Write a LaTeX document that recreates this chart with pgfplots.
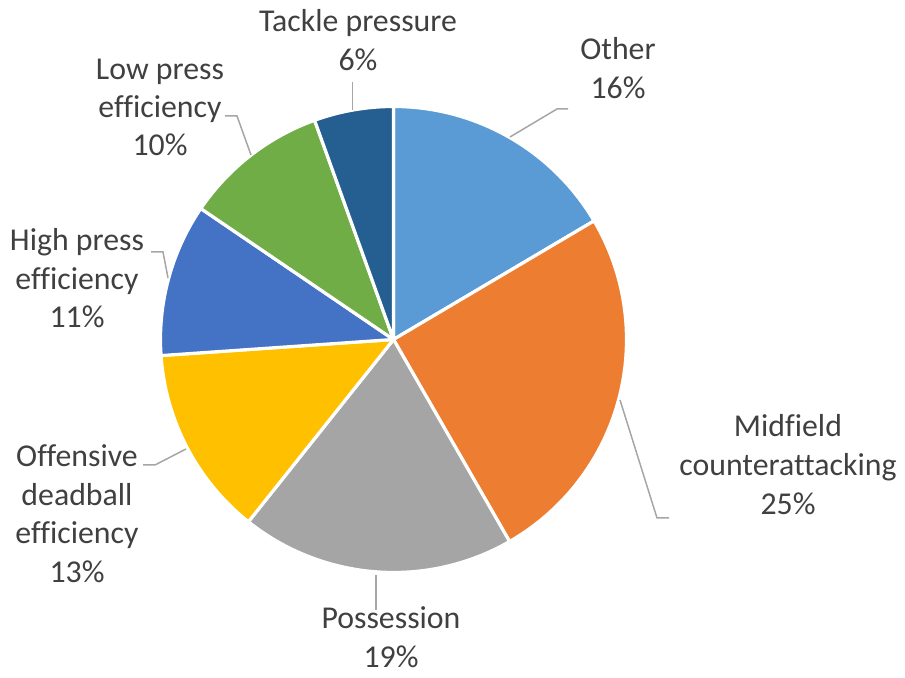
\documentclass[border=0pt]{standalone}
\usepackage{pgfplots}
\pgfplotsset{compat=1.18}
\usepackage{pgfplotstable}
\usepackage{fontspec}
\setmainfont{Carlito}[Ligatures=NoCommon]
\definecolor{slice0}{HTML}{5B9BD5}
\definecolor{slice1}{HTML}{ED7D31}
\definecolor{slice2}{HTML}{A5A5A5}
\definecolor{slice3}{HTML}{FFC000}
\definecolor{slice4}{HTML}{4472C4}
\definecolor{slice5}{HTML}{70AD47}
\definecolor{slice6}{HTML}{255E91}
\definecolor{txt}{HTML}{404040}
\definecolor{lead}{HTML}{A6A6A6}
\pgfplotstableread{
slice value
Other 16.5
Midfield 25.2
Possession 19.0
Offensive 13.2
HighPress 10.6
LowPress 10.0
Tackle 5.5
}\piedata
\begin{document}
\begin{tikzpicture}[every node/.style={font=\fontsize{15.9}{19.5}\selectfont, text=txt, inner sep=0pt}]
\begin{axis}[x=0.5pt,y=0.5pt,xmin=0,xmax=905,ymin=0,ymax=678,hide axis,clip=false]
\path (axis cs:0,0) rectangle (axis cs:905,678);
\def\cum{90}
\pgfplotsforeachungrouped \i in {0,...,6}{%
  \pgfplotstablegetelem{\i}{value}\of\piedata
  \pgfmathsetmacro{\endang}{\cum-3.6*\pgfplotsretval}%
  \edef\temp{\noexpand\filldraw[fill=slice\i,draw=white,line width=1.6pt,line join=round] (axis cs:393.5,338.5) -- ++(\cum:116.5pt) arc[start angle=\cum,end angle=\endang,radius=116.5pt] -- cycle;}%
  \temp
  \global\let\cum\endang
}
% leader lines
\addplot[lead, line width=0.75pt, mark=none] coordinates {(510,541) (557,569) (568,569)};
\addplot[lead, line width=0.75pt, mark=none] coordinates {(620,278) (657,160) (669,160)};
\addplot[lead, line width=0.75pt, mark=none] coordinates {(186,229) (155,213) (143,213)};
\addplot[lead, line width=0.75pt, mark=none] coordinates {(168,400) (163,426) (151,426)};
\addplot[lead, line width=0.75pt, mark=none] coordinates {(251,523) (237,562) (225,562)};
\addplot[lead, line width=0.75pt, mark=none] coordinates {(352.5,568) (352.5,596)};
\addplot[lead, line width=0.75pt, mark=none] coordinates {(376,103) (376,68)};
% labels
\node[anchor=base] at (axis cs:358,646) {Tackle pressure};
\node[anchor=base] at (axis cs:358,607) {6\%};
\node[anchor=base] at (axis cs:618,618) {Other};
\node[anchor=base] at (axis cs:618,579) {16\%};
\node[anchor=base] at (axis cs:160,598) {Low press};
\node[anchor=base] at (axis cs:160,560) {efficiency};
\node[anchor=base] at (axis cs:160,522) {10\%};
\node[anchor=base] at (axis cs:77,427) {High press};
\node[anchor=base] at (axis cs:77,388) {efficiency};
\node[anchor=base] at (axis cs:77,350) {11\%};
\node[anchor=base] at (axis cs:77,211) {Offensive};
\node[anchor=base] at (axis cs:77,172) {deadball};
\node[anchor=base] at (axis cs:77,134) {efficiency};
\node[anchor=base] at (axis cs:77,95) {13\%};
\node[anchor=base] at (axis cs:788,241) {Midfield};
\node[anchor=base] at (axis cs:788,202) {counterattacking};
\node[anchor=base] at (axis cs:788,163) {25\%};
\node[anchor=base] at (axis cs:391,49) {Possession};
\node[anchor=base] at (axis cs:391,10) {19\%};
\end{axis}
\end{tikzpicture}
\end{document}
